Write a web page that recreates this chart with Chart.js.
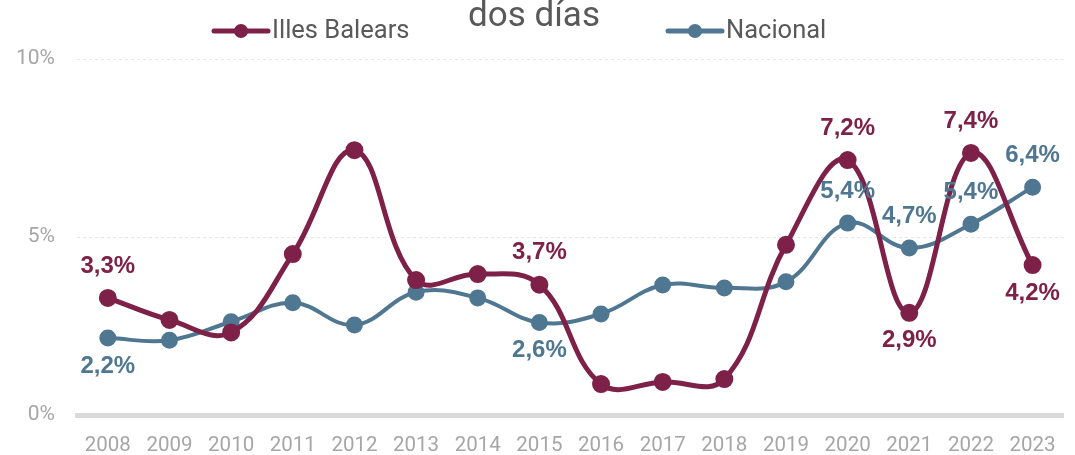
<!DOCTYPE html>
<html>
<head>
<meta charset="utf-8">
<script src="https://cdn.jsdelivr.net/npm/chart.js@4"></script>
<style>
  html, body { margin: 0; padding: 0; background: #fff; }
  #wrap { width: 1075px; height: 455px; }
</style>
</head>
<body>
<div id="wrap"><canvas id="chart"></canvas></div>
<script>
const years = ['2008','2009','2010','2011','2012','2013','2014','2015','2016','2017','2018','2019','2020','2021','2022','2023'];
const baleares = [3.29, 2.67, 2.32, 4.52, 7.44, 3.79, 3.96, 3.66, 0.87, 0.93, 1.01, 4.78, 7.16, 2.87, 7.36, 4.21];
const nacional = [2.16, 2.1, 2.62, 3.15, 2.53, 3.45, 3.29, 2.6, 2.84, 3.65, 3.57, 3.74, 5.39, 4.69, 5.36, 6.4];
// which points get a value label, and where
const balearesLabels = { 0: 'above', 7: 'above', 12: 'above', 13: 'below', 14: 'above', 15: 'below' };
const nacionalLabels = { 0: 'below', 7: 'below', 12: 'above', 13: 'above', 14: 'above', 15: 'above' };
const yTicks = [0, 5, 10];

const MAROON = '#7E2148';
const BLUE = '#4F7791';
const TEXT = '#595959';

const pointLabels = {
  id: 'pointLabels',
  afterDatasetsDraw(chart) {
    const ctx = chart.ctx;
    ctx.save();
    ctx.font = 'bold 24px "Liberation Sans", Arial, sans-serif';
    ctx.textAlign = 'center';
    ctx.textBaseline = 'middle';
    chart.data.datasets.forEach((ds, i) => {
      const meta = chart.getDatasetMeta(i);
      Object.entries(ds.labelPos).forEach(([idx, pos]) => {
        const pt = meta.data[idx];
        const txt = ds.data[idx].toFixed(1).replace('.', ',') + '%';
        ctx.fillStyle = ds.borderColor;
        const dy = pos === 'above' ? -32 : 28;
        ctx.fillText(txt, pt.x, pt.y + dy);
      });
    });
    ctx.restore();
  }
};

const header = {
  id: 'header',
  afterDraw(chart) {
    const ctx = chart.ctx;
    ctx.save();
    ctx.fillStyle = TEXT;
    ctx.textBaseline = 'alphabetic';
    ctx.textAlign = 'center';
    ctx.font = '35px Roboto, "Open Sans", sans-serif';
    ctx.fillText('dos días', 534, 26);
    const items = [
      { text: 'Illes Balears', color: MAROON, x: 214 },
      { text: 'Nacional', color: BLUE, x: 668 }
    ];
    ctx.font = '25.5px Roboto, "Open Sans", sans-serif';
    ctx.textAlign = 'left';
    ctx.textBaseline = 'middle';
    items.forEach(it => {
      ctx.strokeStyle = it.color;
      ctx.lineWidth = 5;
      ctx.lineCap = 'round';
      ctx.beginPath();
      ctx.moveTo(it.x, 31);
      ctx.lineTo(it.x + 54, 31);
      ctx.stroke();
      ctx.fillStyle = it.color;
      ctx.beginPath();
      ctx.arc(it.x + 27, 31, 7, 0, Math.PI * 2);
      ctx.fill();
      ctx.fillStyle = TEXT;
      ctx.fillText(it.text, it.x + 58, 32);
    });
    ctx.restore();
  }
};

new Chart(document.getElementById('chart'), {
  type: 'line',
  data: {
    labels: years,
    datasets: [
      {
        label: 'Illes Balears',
        data: baleares,
        labelPos: balearesLabels,
        borderColor: MAROON,
        backgroundColor: MAROON,
        borderWidth: 5,
        pointRadius: 6.5,
        tension: 0.4
      },
      {
        label: 'Nacional',
        data: nacional,
        labelPos: nacionalLabels,
        borderColor: BLUE,
        backgroundColor: BLUE,
        borderWidth: 4,
        pointRadius: 6.5,
        tension: 0.4
      }
    ]
  },
  options: {
    responsive: true,
    maintainAspectRatio: false,
    animation: false,
    layout: { padding: { top: 59, right: 6, left: 0, bottom: 0 } },
    plugins: {
      legend: { display: false },
      title: { display: false },
      tooltip: { enabled: false }
    },
    scales: {
      x: {
        offset: true,
        grid: { display: false, drawTicks: false },
        border: { display: true, color: '#D9D9D9', width: 5 },
        ticks: {
          color: '#A6A6A6',
          font: { family: 'Roboto, sans-serif', size: 20.5 },
          padding: 19,
          maxRotation: 0,
          autoSkip: false
        },
        afterFit(s) { s.height = 40; }
      },
      y: {
        min: 0,
        max: 10,
        afterBuildTicks(s) { s.ticks = yTicks.map(v => ({ value: v })); },
        grid: {
          drawTicks: false,
          color: ctx => ctx.tick && ctx.tick.value === 0 ? 'rgba(0,0,0,0)' : '#E6E6E6',
          lineWidth: 1
        },
        border: { display: false, dash: [3, 3] },
        ticks: {
          color: '#A6A6A6',
          font: { family: 'Roboto, sans-serif', size: 21 },
          padding: 22,
          callback: v => v + '%'
        },
        afterFit(s) { s.width = 77; }
      }
    }
  },
  plugins: [pointLabels, header]
});
</script>
</body>
</html>
